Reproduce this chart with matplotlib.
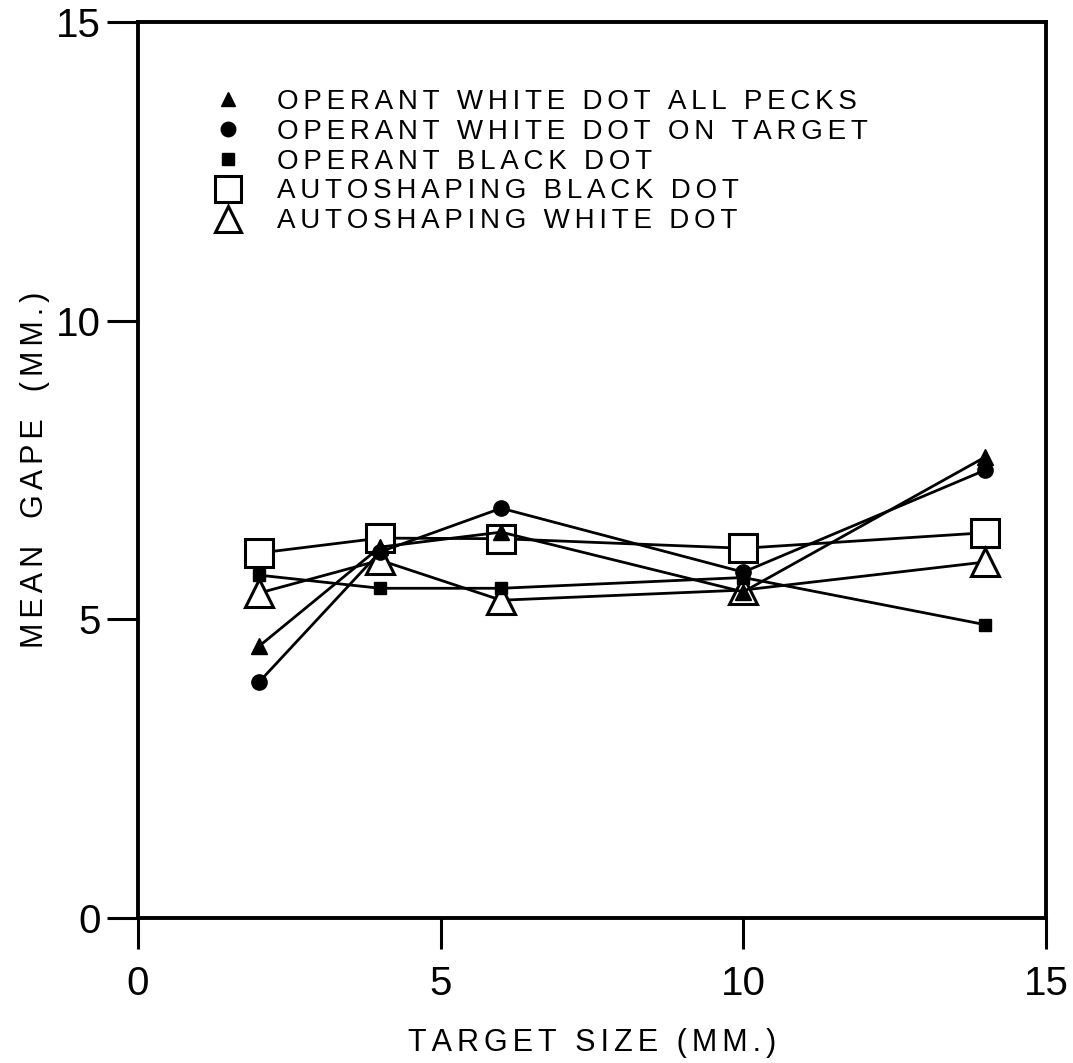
import matplotlib
matplotlib.use("Agg")
import matplotlib.pyplot as plt

plt.rcParams['font.family'] = ['Liberation Sans', 'DejaVu Sans']

# target size (mm)
target_size = [2, 4, 6, 10, 14]

# mean gape (mm) per condition
op_white_all = [4.55, 6.21, 6.46, 5.46, 7.72]
op_white_on = [3.95, 6.13, 6.86, 5.79, 7.50]
op_black = [5.74, 5.52, 5.52, 5.70, 4.91]
auto_black = [6.11, 6.36, 6.35, 6.19, 6.45]
auto_white = [5.44, 5.99, 5.32, 5.49, 5.96]

labels = ["OPERANT WHITE DOT ALL PECKS",
          "OPERANT WHITE DOT ON TARGET",
          "OPERANT BLACK DOT",
          "AUTOSHAPING BLACK DOT",
          "AUTOSHAPING WHITE DOT"]


def spaced(s, gap="\u200a\u200a", word=" "):
    # old lettering has wide tracking between the letters
    words = [gap.join(w) for w in s.split(" ")]
    return (gap + word + gap).join(words)


fig = plt.figure(figsize=(10.73, 10.63), dpi=100)
ax = fig.add_axes([0.1286, 0.1364, 0.8462, 0.8429])

lw = 2.0
ax.plot(target_size, op_white_all, color='black', lw=lw, marker='^', ms=11,
        mfc='black', mec='black', label=spaced(labels[0]), zorder=3)
ax.plot(target_size, op_white_on, color='black', lw=lw, marker='o', ms=11,
        mfc='black', mec='black', label=spaced(labels[1]), zorder=3)
ax.plot(target_size, op_black, color='black', lw=lw, marker='s', ms=9,
        mfc='black', mec='black', label=spaced(labels[2]), zorder=3)
ax.plot(target_size, auto_black, color='black', lw=lw, marker='s', ms=20,
        mfc='white', mec='black', mew=2.2, label=spaced(labels[3]), zorder=2)
ax.plot(target_size, auto_white, color='black', lw=lw, marker='^', ms=20,
        mfc='white', mec='black', mew=2.2, label=spaced(labels[4]), zorder=2)

ax.set_xlim(0, 15)
ax.set_ylim(0, 15)
ax.set_xticks([0, 5, 10, 15])
ax.set_yticks([0, 5, 10, 15])
for s in ax.spines.values():
    s.set_linewidth(2.8)
ax.tick_params(direction='out', length=22, width=2.2, labelsize=29)
ax.tick_params(axis='x', pad=12)
ax.tick_params(axis='y', pad=5)

ax.set_xlabel(spaced("TARGET SIZE (MM.)", word=" "), fontsize=22, labelpad=18)
ax.set_ylabel(spaced("MEAN GAPE (MM.)", word="  "), fontsize=22, labelpad=4)

leg = ax.legend(loc='upper left', bbox_to_anchor=(0.084, 0.941), frameon=False,
                fontsize=20, handlelength=0, handletextpad=1.75,
                labelspacing=0.14, borderpad=0, markerscale=0.95)
for h in leg.legend_handles:
    h.set_linestyle('none')

fig.savefig("out.png", dpi=100)
